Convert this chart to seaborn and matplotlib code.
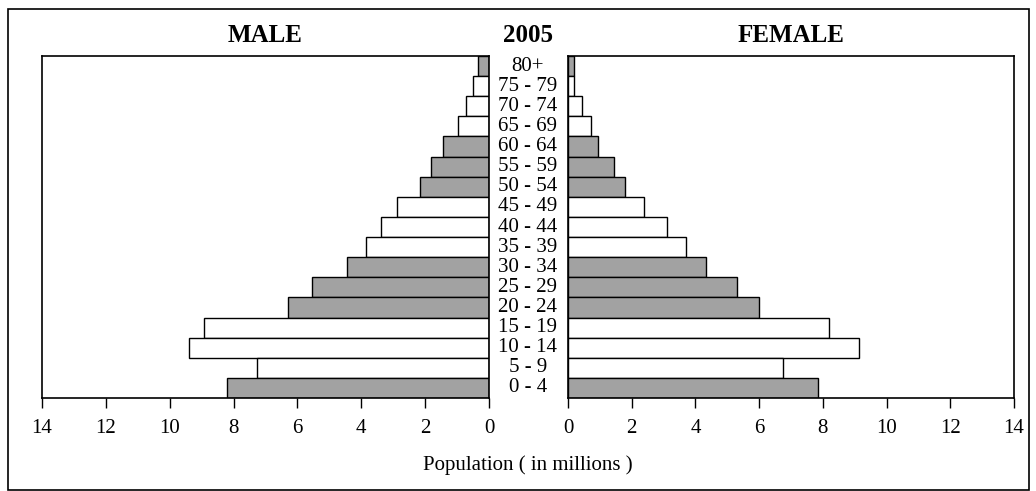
import matplotlib
matplotlib.use('Agg')
import matplotlib.pyplot as plt
import matplotlib.transforms as mtransforms
from matplotlib.patches import Rectangle
import seaborn as sns
import pandas as pd

# Age groups, top of the pyramid first
ages = ['80+', '75 - 79', '70 - 74', '65 - 69', '60 - 64', '55 - 59', '50 - 54',
        '45 - 49', '40 - 44', '35 - 39', '30 - 34', '25 - 29', '20 - 24',
        '15 - 19', '10 - 14', '5 - 9', '0 - 4']
male = [0.35, 0.49, 0.73, 0.96, 1.45, 1.81, 2.16, 2.89, 3.39, 3.86,
        4.44, 5.54, 6.28, 8.93, 9.40, 7.26, 8.21]
female = [0.20, 0.20, 0.45, 0.71, 0.95, 1.43, 1.79, 2.40, 3.11, 3.71,
          4.32, 5.29, 6.01, 8.20, 9.15, 6.74, 7.84]
shaded = [1, 0, 0, 0, 1, 1, 1, 0, 0, 0, 1, 1, 1, 0, 0, 0, 1]
ticks = [0, 2, 4, 6, 8, 10, 12, 14]

df = pd.DataFrame({'age': ages, 'male': male, 'female': female})
palette = {a: ('#a2a2a2' if s else 'white') for a, s in zip(ages, shaded)}

sns.set_style('white')
plt.rcParams['font.family'] = ['Liberation Serif', 'DejaVu Serif']
plt.rcParams['text.color'] = 'black'
plt.rcParams['xtick.color'] = 'black'
plt.rcParams['xtick.labelcolor'] = 'black'

W, H = 1036, 491
fig = plt.figure(figsize=(W / 100, H / 100), dpi=100)
ax_m = fig.add_axes([42 / W, 1 - 398 / H, (489 - 42) / W, (398 - 56) / H])
ax_f = fig.add_axes([568 / W, 1 - 398 / H, (1014 - 568) / W, (398 - 56) / H])

for ax, col in [(ax_m, 'male'), (ax_f, 'female')]:
    sns.barplot(data=df, x=col, y='age', hue='age', palette=palette, order=ages,
                width=1.0, edgecolor='black', linewidth=1.0, legend=False, ax=ax)
    ax.set_xlim(0, 14)
    ax.set_xticks(ticks)
    ax.set_xlabel('')
    ax.set_ylabel('')
    ax.set_yticks([])
    ax.set_ylim(len(ages) - 0.5, -0.5)
    ax.tick_params(axis='x', direction='out', length=7, width=1, color='black',
                   labelcolor='black', labelsize=15, pad=8, bottom=True)
    for s in ax.spines.values():
        s.set_color('black')
        s.set_linewidth(1.2)

ax_m.invert_xaxis()

# age labels in the gap between panels
trans = mtransforms.blended_transform_factory(fig.transFigure, ax_f.transData)
for i, a in enumerate(ages):
    fig.text(528 / W, i, a, transform=trans, ha='center', va='center',
             fontsize=15, color='black')

fig.text(265 / W, 1 - 36 / H, 'MALE', ha='center', va='center', fontsize=18, fontweight='bold')
fig.text(528 / W, 1 - 36 / H, '2005', ha='center', va='center', fontsize=18, fontweight='bold')
fig.text(791 / W, 1 - 36 / H, 'FEMALE', ha='center', va='center', fontsize=18, fontweight='bold')
fig.text(528 / W, 1 - 465 / H, 'Population ( in millions )', ha='center', va='center', fontsize=15)

# outer frame
fig.patches.append(Rectangle((8 / W, 1 - 490 / H), (1029 - 8) / W, (490 - 9) / H,
                             transform=fig.transFigure, fill=False,
                             edgecolor='black', linewidth=1.2))

fig.savefig('out.png', dpi=100)
